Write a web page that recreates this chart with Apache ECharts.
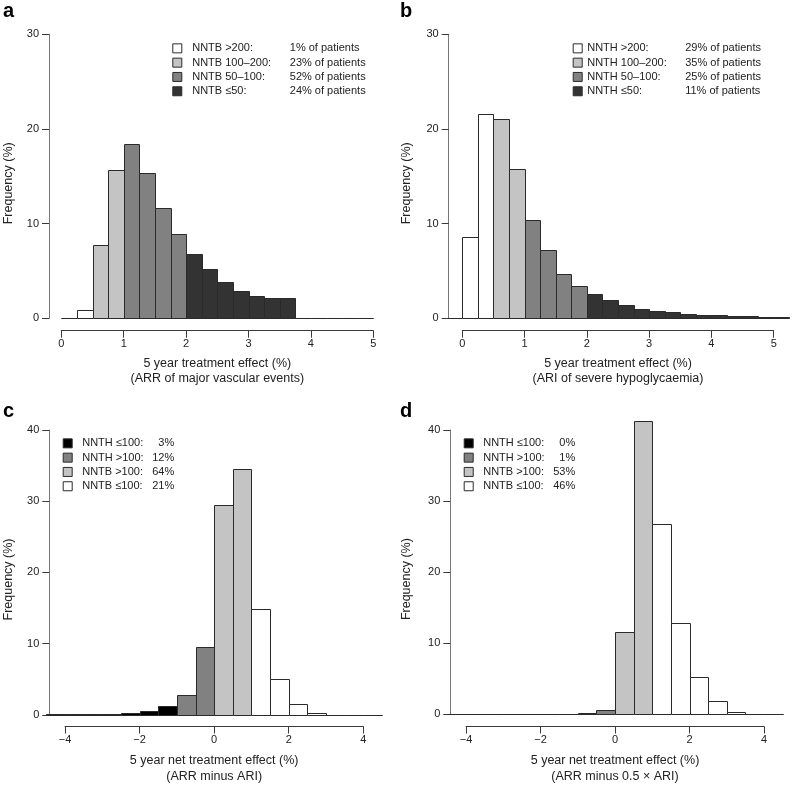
<!DOCTYPE html>
<html>
<head>
<meta charset="utf-8">
<script src="https://cdn.jsdelivr.net/npm/echarts@6.0.0/dist/echarts.min.js"></script>
<style>
  html, body { margin: 0; padding: 0; background: #fff; }
  #chart { width: 794px; height: 785px; }
</style>
</head>
<body>
<div id="chart"></div>
<script>
// bin lower edges and frequency (%) per panel
const lowA = [0, 0.25, 0.5, 0.75, 1, 1.25, 1.5, 1.75, 2, 2.25, 2.5, 2.75, 3, 3.25, 3.5, 3.75, 4, 4.25, 4.5, 4.75]
const freqA = [0, 0.9, 7.7, 15.7, 18.4, 15.3, 11.6, 8.9, 6.8, 5.2, 3.8, 2.9, 2.4, 2.1, 2.1, 0, 0, 0, 0, 0]

const lowB = [-0.25, 0, 0.25, 0.5, 0.75, 1, 1.25, 1.5, 1.75, 2, 2.25, 2.5, 2.75, 3, 3.25, 3.5, 3.75, 4, 4.25, 4.5, 4.75, 5]
const freqB = [0, 8.6, 21.6, 21.1, 15.8, 10.4, 7.2, 4.65, 3.4, 2.55, 1.9, 1.45, 1.0, 0.75, 0.65, 0.45, 0.38, 0.3, 0.22, 0.26, 0.1, 0.1]

const lowC = [-4.5, -4, -3.5, -3, -2.5, -2, -1.5, -1, -0.5, 0, 0.5, 1, 1.5, 2, 2.5, 3, 3.5, 4]
const freqC = [0.08, 0.12, 0.08, 0.12, 0.2, 0.55, 1.3, 2.8, 9.6, 29.5, 34.5, 14.8, 5.0, 1.6, 0.3, 0.05, 0.03, 0.02]

const lowD = [-4.5, -4, -3.5, -3, -2.5, -2, -1.5, -1, -0.5, 0, 0.5, 1, 1.5, 2, 2.5, 3, 3.5, 4]
const freqD = [0, 0, 0, 0.02, 0.03, 0.05, 0.08, 0.15, 0.6, 11.6, 41.2, 26.8, 12.9, 5.3, 1.8, 0.28, 0.03, 0]

// group cut points (bins at or above a cut move to the next group)
const cutsAB = [0.5, 1, 2]
const cutsCD = [-1, 0, 1]

const groupsA = ['NNTB >200:', 'NNTB 100–200:', 'NNTB 50–100:', 'NNTB ≤50:']
const sharesA = ['1% of patients', '23% of patients', '52% of patients', '24% of patients']
const groupsB = ['NNTH >200:', 'NNTH 100–200:', 'NNTH 50–100:', 'NNTH ≤50:']
const sharesB = ['29% of patients', '35% of patients', '25% of patients', '11% of patients']
const groupsCD = ['NNTH ≤100:', 'NNTH >100:', 'NNTB >100:', 'NNTB ≤100:']
const sharesC = ['3%', '12%', '64%', '21%']
const sharesD = ['0%', '1%', '53%', '46%']

const FILLS_AB = ['#ffffff', '#c4c4c4', '#818181', '#333333']
const FILLS_CD = ['#000000', '#818181', '#c4c4c4', '#ffffff']
const EDGE = '#2a2a2a'
const FONT = '"Liberation Sans", Arial, Helvetica, sans-serif'

function renderBin(params, api) {
  const p0 = api.coord([api.value(0), 0])
  const p1 = api.coord([api.value(1), api.value(2)])
  const x0 = Math.round(p0[0]) + 0.5
  const x1 = Math.round(p1[0]) + 0.5
  const yb = Math.round(p0[1]) + 0.5
  const yt = Math.round(p1[1]) + 0.5
  return {
    type: 'rect',
    shape: { x: x0, y: yt, width: x1 - x0, height: yb - yt },
    style: { fill: api.visual('color'), stroke: EDGE, lineWidth: 1 }
  }
}

const labelOf = {}   // series name -> [group, share]
const series = []

function addPanel(idx, key, lows, freqs, width, cuts, groups, shares, fills) {
  groups.forEach((g, gi) => {
    const name = key + ':' + g
    labelOf[name] = [g, shares[gi]]
    const data = []
    lows.forEach((lo, i) => {
      let grp = 0
      cuts.forEach(c => { if (lo >= c - 1e-9) grp++ })
      if (grp === gi) data.push([lo, lo + width, freqs[i]])
    })
    series.push({
      type: 'custom',
      name,
      xAxisIndex: idx,
      yAxisIndex: idx,
      clip: false,
      itemStyle: { color: fills[gi] },
      encode: { x: [0, 1], y: 2 },
      renderItem: renderBin,
      data
    })
  })
}

addPanel(0, 'a', lowA, freqA, 0.25, cutsAB, groupsA, sharesA, FILLS_AB)
addPanel(1, 'b', lowB, freqB, 0.25, cutsAB, groupsB, sharesB, FILLS_AB)
addPanel(2, 'c', lowC, freqC, 0.5, cutsCD, groupsCD, sharesC, FILLS_CD)
addPanel(3, 'd', lowD, freqD, 0.5, cutsCD, groupsCD, sharesD, FILLS_CD)

const grids = [
  { left: 61.3, top: 34.3, width: 312, height: 284 },
  { left: 462.3, top: 34.3, width: 311.4, height: 284 },
  { left: 65, top: 430, width: 298.3, height: 286.7 },
  { left: 466, top: 430, width: 298, height: 286.7 }
]

const xNames = [
  '5 year treatment effect (%)\n(ARR of major vascular events)',
  '5 year treatment effect (%)\n(ARI of severe hypoglycaemia)',
  '5 year net treatment effect (%)\n(ARR minus ARI)',
  '5 year net treatment effect (%)\n(ARR minus 0.5 × ARI)'
]
const xRange = [[0, 5, 1], [0, 5, 1], [-4, 4, 2], [-4, 4, 2]]
const yMax = [30, 30, 40, 40]
const yOffset = [12.3, 13.6, 15.7, 15.7]
const xOffset = [12.4, 12.4, 11.6, 12.3]
const xNameGap = [25, 25, 26.5, 26.5]
const yNameGap = [34.4, 35.4, 34.7, 37]

const axisTick = { show: true, length: 7, lineStyle: { color: '#3a3a3a', width: 1 } }

const xAxes = xRange.map((r, i) => ({
  type: 'value',
  gridIndex: i,
  min: r[0],
  max: r[1],
  interval: r[2],
  offset: xOffset[i],
  axisLine: { show: true, onZero: false, lineStyle: { color: '#3a3a3a', width: 1 } },
  axisTick,
  splitLine: { show: false },
  axisLabel: {
    margin: 8, fontSize: 11, color: '#222', fontFamily: FONT,
    formatter: v => (v < 0 ? '−' + Math.abs(v) : String(v))
  },
  name: xNames[i],
  nameLocation: 'middle',
  nameGap: xNameGap[i],
  nameTextStyle: { fontSize: 12.5, lineHeight: 15.5, color: '#222', fontFamily: FONT }
}))

const yAxes = yMax.map((m, i) => ({
  type: 'value',
  gridIndex: i,
  min: 0,
  max: m,
  interval: 10,
  offset: yOffset[i],
  axisLine: { show: true, onZero: false, lineStyle: { color: '#777', width: 1 } },
  axisTick,
  splitLine: { show: false },
  axisLabel: { margin: 10, fontSize: 11, color: '#222', fontFamily: FONT },
  name: 'Frequency (%)',
  nameLocation: 'middle',
  nameGap: yNameGap[i],
  nameTextStyle: { fontSize: 12.5, color: '#222', fontFamily: FONT, padding: [0, 14, 0, 0] }
}))

function makeLegend(key, groups, left, top, lead, colA, colB, alignB) {
  const rich = {
    g: { width: lead, fontSize: 11 },
    a: { width: colA, fontSize: 11, color: '#222', fontFamily: FONT },
    b: { fontSize: 11, color: '#222', fontFamily: FONT }
  }
  if (colB) { rich.b.width = colB; rich.b.align = alignB }
  return {
    data: groups.map(g => key + ':' + g),
    orient: 'vertical',
    left, top,
    padding: 0,
    itemGap: 0,
    itemWidth: 9,
    itemHeight: 9,
    icon: 'rect',
    selectedMode: false,
    itemStyle: { borderColor: EDGE, borderWidth: 1 },
    textStyle: { fontSize: 11, lineHeight: 14.3, fontFamily: FONT, rich },
    formatter: name => {
      const [g, s] = labelOf[name]
      return (lead ? '{g| }' : '') + '{a|' + g + '}{b|' + s + '}'
    }
  }
}

const legends = [
  makeLegend('a', groupsA, 172.3, 41.2, 5.4, 97.6),
  makeLegend('b', groupsB, 572.7, 41.2, 0, 98),
  makeLegend('c', groupsCD, 62.7, 436.2, 5, 64, 28, 'right'),
  makeLegend('d', groupsCD, 463.7, 436.2, 5, 64, 28, 'right')
]

const letterStyle = { fontSize: 20, fontWeight: 'bold', color: '#000', fontFamily: FONT }
const titles = [
  { text: 'a', left: 3, top: 1 },
  { text: 'b', left: 400, top: 1 },
  { text: 'c', left: 3, top: 401 },
  { text: 'd', left: 400, top: 401 }
].map(t => Object.assign({ padding: 0, textStyle: letterStyle }, t))

const chart = echarts.init(document.getElementById('chart'), null, { renderer: 'canvas' })
chart.setOption({
  animation: false,
  backgroundColor: '#fff',
  textStyle: { fontFamily: FONT },
  title: titles,
  legend: legends,
  grid: grids,
  xAxis: xAxes,
  yAxis: yAxes,
  series
})
</script>
</body>
</html>
